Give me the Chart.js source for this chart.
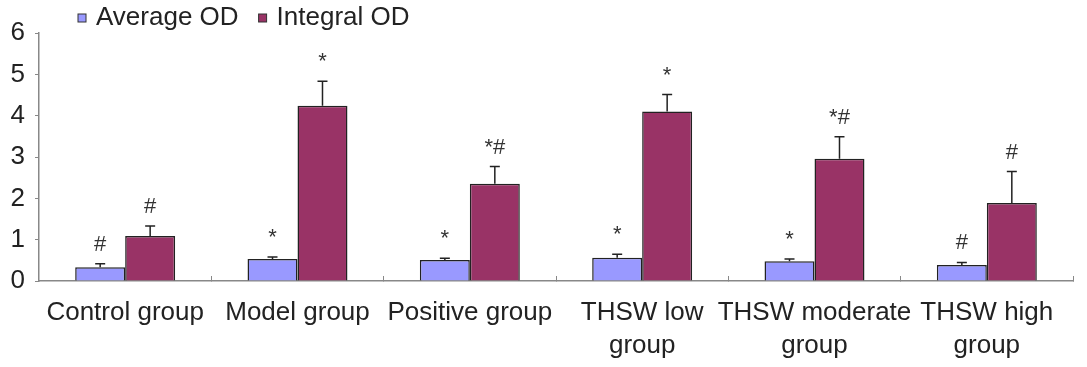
<!DOCTYPE html>
<html>
<head>
<meta charset="utf-8">
<script src="https://cdn.jsdelivr.net/npm/chart.js@4"></script>
<style>
  html, body { margin: 0; padding: 0; background: #fff; }
  #wrap { width: 1087px; height: 367px; }
</style>
</head>
<body>
<div id="wrap"><canvas id="chart" width="1087" height="367"></canvas></div>
<script>
const categories = ["Control group", "Model group", "Positive group", ["THSW low", "group"], ["THSW moderate", "group"], ["THSW high", "group"]];
const avgOD = [0.33, 0.53, 0.51, 0.56, 0.48, 0.39];
const avgErr = [0.09, 0.05, 0.04, 0.09, 0.05, 0.06];
const intOD = [1.09, 4.24, 2.35, 4.10, 2.96, 1.89];
const intErr = [0.24, 0.59, 0.42, 0.41, 0.53, 0.76];
const avgMark = ["#", "*", "*", "*", "*", "#"];
const intMark = ["#", "*", "*#", "*", "*#", "#"];
const yTicks = [0, 1, 2, 3, 4, 5, 6];

const FONT = "'Liberation Sans', Arial, sans-serif";

// error bars + significance marks
const errorBars = {
  id: "errorBars",
  afterDatasetsDraw(chart) {
    const ctx = chart.ctx;
    const y = chart.scales.y;
    chart.data.datasets.forEach((ds, i) => {
      const meta = chart.getDatasetMeta(i);
      meta.data.forEach((bar, j) => {
        const top = y.getPixelForValue(ds.data[j] + ds.err[j]);
        ctx.save();
        ctx.strokeStyle = "#222";
        ctx.lineWidth = 1.5;
        ctx.beginPath();
        ctx.moveTo(bar.x, bar.y);
        ctx.lineTo(bar.x, top);
        ctx.moveTo(bar.x - 5, top);
        ctx.lineTo(bar.x + 5, top);
        ctx.stroke();
        ctx.fillStyle = "#333";
        ctx.font = "22px " + FONT;
        ctx.textAlign = "center";
        ctx.textBaseline = "middle";
        ctx.fillText(ds.marks[j], bar.x, top - 19);
        ctx.restore();
      });
    });
  }
};

// legend drawn at top-left like the original
const topLegend = {
  id: "topLegend",
  afterDraw(chart) {
    const ctx = chart.ctx;
    let x = 78;
    const cy = 18;
    ctx.save();
    ctx.font = "26px " + FONT;
    ctx.textBaseline = "middle";
    chart.data.datasets.forEach(ds => {
      ctx.fillStyle = ds.backgroundColor;
      ctx.fillRect(x, cy - 4, 8, 8);
      ctx.strokeStyle = "#333";
      ctx.lineWidth = 1;
      ctx.strokeRect(x, cy - 4, 8, 8);
      ctx.fillStyle = "#222";
      ctx.fillText(ds.label, x + 18, cy);
      x += 18 + ctx.measureText(ds.label).width + 20;
    });
    ctx.restore();
  }
};

new Chart(document.getElementById("chart"), {
  type: "bar",
  data: {
    labels: categories,
    datasets: [
      {
        label: "Average OD",
        data: avgOD,
        err: avgErr,
        marks: avgMark,
        backgroundColor: "#9999FF",
        borderColor: "#222",
        borderWidth: 1.5,
        categoryPercentage: 0.58,
        barPercentage: 1
      },
      {
        label: "Integral OD",
        data: intOD,
        err: intErr,
        marks: intMark,
        backgroundColor: "#993366",
        borderColor: "#222",
        borderWidth: 1.5,
        categoryPercentage: 0.58,
        barPercentage: 1
      }
    ]
  },
  options: {
    responsive: false,
    animation: false,
    layout: { padding: { top: 33, right: 14, left: 0, bottom: 0 } },
    plugins: {
      legend: { display: false },
      tooltip: { enabled: false }
    },
    scales: {
      x: {
        grid: { display: true, drawOnChartArea: false, offset: true, tickLength: -5, color: "#888" },
        border: { color: "#888", width: 1.5 },
        ticks: { color: "#222", font: { family: FONT, size: 26, lineHeight: 1.27 }, padding: 20, maxRotation: 0, autoSkip: false },
        afterFit(s) { s.height = 86; }
      },
      y: {
        min: 0,
        max: 6,
        afterBuildTicks(s) { s.ticks = yTicks.map(v => ({ value: v })); },
        grid: { display: true, drawOnChartArea: false, tickLength: 4, color: "#888" },
        border: { color: "#888", width: 1.5 },
        ticks: { color: "#222", font: { family: FONT, size: 26 }, padding: 10 },
        afterFit(s) { s.width = 39; }
      }
    }
  },
  plugins: [errorBars, topLegend]
});
</script>
</body>
</html>
